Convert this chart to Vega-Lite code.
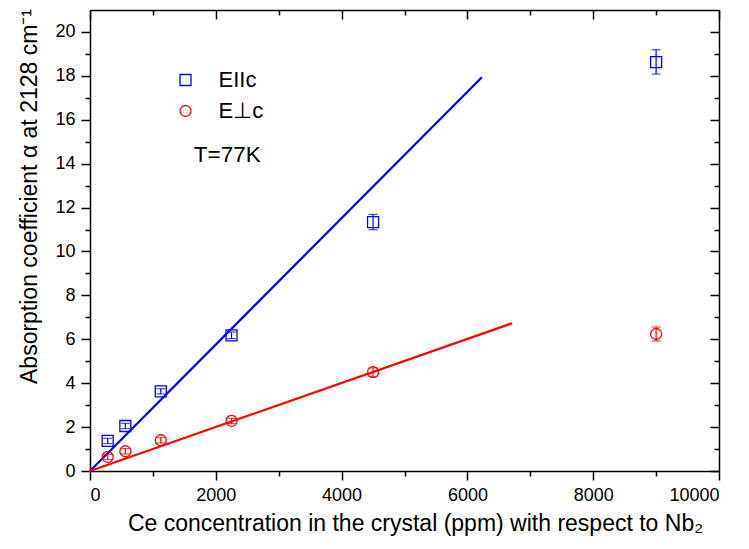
{
  "$schema": "https://vega.github.io/schema/vega-lite/v6.json",
  "autosize": "none",
  "width": 629,
  "height": 461,
  "padding": {"left": 90, "top": 10, "right": 30, "bottom": 78},
  "background": "white",
  "config": {
    "view": {"stroke": null},
    "font": "Liberation Sans",
    "axis": {
      "grid": false,
      "domainColor": "black",
      "tickColor": "black",
      "domainWidth": 1.5,
      "tickWidth": 1.5,
      "labelColor": "black",
      "titleColor": "black",
      "labelFont": "Liberation Sans",
      "titleFont": "Liberation Sans",
      "labelFontSize": 18,
      "titleFontSize": 23,
      "titleFontWeight": "normal",
      "labelOverlap": false
    }
  },
  "datasets": {
    "pts": [
      {"series": "EIIc", "x": 281, "y": 1.37, "lo": 1.25, "hi": 1.49},
      {"series": "EIIc", "x": 562, "y": 2.05, "lo": 1.93, "hi": 2.17},
      {"series": "EIIc", "x": 1125, "y": 3.63, "lo": 3.51, "hi": 3.75},
      {"series": "EIIc", "x": 2250, "y": 6.18, "lo": 6.03, "hi": 6.33},
      {"series": "EIIc", "x": 4500, "y": 11.34, "lo": 10.99, "hi": 11.69},
      {"series": "EIIc", "x": 9000, "y": 18.63, "lo": 18.08, "hi": 19.19},
      {"series": "E⊥c", "x": 281, "y": 0.64, "lo": 0.52, "hi": 0.76},
      {"series": "E⊥c", "x": 562, "y": 0.9, "lo": 0.78, "hi": 1.02},
      {"series": "E⊥c", "x": 1125, "y": 1.4, "lo": 1.28, "hi": 1.52},
      {"series": "E⊥c", "x": 2250, "y": 2.28, "lo": 2.16, "hi": 2.4},
      {"series": "E⊥c", "x": 4500, "y": 4.5, "lo": 4.3, "hi": 4.7},
      {"series": "E⊥c", "x": 9000, "y": 6.24, "lo": 5.92, "hi": 6.56}
    ],
    "fits": [
      {"series": "EIIc", "x": 0, "y": 0},
      {"series": "EIIc", "x": 6230, "y": 17.94},
      {"series": "E⊥c", "x": 0, "y": 0},
      {"series": "E⊥c", "x": 6710, "y": 6.73}
    ],
    "notes": [
      {"label": "T=77K", "x": 1650, "y": 14.38}
    ]
  },
  "resolve": {"axis": {"x": "independent", "y": "independent"}},
  "layer": [
    {
      "data": {"name": "fits"},
      "mark": {"type": "line", "strokeWidth": 2.2},
      "encoding": {
        "x": {"field": "x", "type": "quantitative",
          "scale": {"domain": [0, 10000], "nice": false, "zero": false},
          "axis": {"orient": "bottom",
            "values": [0, 1000, 2000, 3000, 4000, 5000, 6000, 7000, 8000, 9000, 10000],
            "format": "d",
            "labelExpr": "datum.value % 2000 === 0 ? datum.label : ''",
            "tickSize": {"condition": {"test": "datum.value % 2000 === 0", "value": 9}, "value": 5},
            "labelPadding": 6,
            "title": "Ce concentration in the crystal (ppm) with respect to Nb₂",
            "titleX": 325,
            "titlePadding": 8}},
        "y": {"field": "y", "type": "quantitative",
          "scale": {"domain": [0, 21], "nice": false, "zero": false},
          "axis": {"orient": "left",
            "values": [0, 1, 2, 3, 4, 5, 6, 7, 8, 9, 10, 11, 12, 13, 14, 15, 16, 17, 18, 19, 20],
            "labelExpr": "datum.value % 2 === 0 ? datum.label : ''",
            "tickSize": {"condition": {"test": "datum.value % 2 === 0", "value": 9}, "value": 5},
            "labelPadding": 6,
            "title": "Absorption coefficient α at 2128 cm⁻¹",
            "titleY": 186,
            "titleX": -49}},
        "color": {"condition": {"test": "datum.series === 'EIIc'", "value": "#0000ff"}, "value": "#ff0000"},
        "detail": {"field": "series"}
      }
    },
    {
      "data": {"name": "pts"},
      "mark": {"type": "rule", "strokeWidth": 1.2},
      "encoding": {
        "x": {"field": "x", "type": "quantitative",
          "axis": {"orient": "top",
            "values": [0, 1000, 2000, 3000, 4000, 5000, 6000, 7000, 8000, 9000, 10000],
            "labels": false, "title": null,
            "tickSize": {"condition": {"test": "datum.value % 2000 === 0", "value": -9}, "value": -5}}},
        "y": {"field": "lo", "type": "quantitative",
          "axis": {"orient": "right",
            "values": [0, 1, 2, 3, 4, 5, 6, 7, 8, 9, 10, 11, 12, 13, 14, 15, 16, 17, 18, 19, 20],
            "labels": false, "title": null,
            "tickSize": {"condition": {"test": "datum.value % 2 === 0", "value": -9}, "value": -5}}},
        "y2": {"field": "hi"},
        "color": {"condition": {"test": "datum.series === 'EIIc'", "value": "#0000ff"}, "value": "#ff0000"}
      }
    },
    {
      "data": {"name": "pts"},
      "mark": {"type": "tick", "orient": "horizontal", "size": 9, "thickness": 1.2},
      "encoding": {
        "x": {"field": "x", "type": "quantitative", "axis": null},
        "y": {"field": "lo", "type": "quantitative", "axis": null},
        "color": {"condition": {"test": "datum.series === 'EIIc'", "value": "#0000ff"}, "value": "#ff0000"}
      }
    },
    {
      "data": {"name": "pts"},
      "mark": {"type": "tick", "orient": "horizontal", "size": 9, "thickness": 1.2},
      "encoding": {
        "x": {"field": "x", "type": "quantitative", "axis": null},
        "y": {"field": "hi", "type": "quantitative", "axis": null},
        "color": {"condition": {"test": "datum.series === 'EIIc'", "value": "#0000ff"}, "value": "#ff0000"}
      }
    },
    {
      "data": {"name": "pts"},
      "mark": {"type": "point", "filled": false, "strokeWidth": 1.3, "opacity": 1},
      "encoding": {
        "x": {"field": "x", "type": "quantitative", "axis": null},
        "y": {"field": "y", "type": "quantitative", "axis": null},
        "color": {"field": "series", "type": "nominal",
          "scale": {"domain": ["EIIc", "E⊥c"], "range": ["#0000ff", "#ff0000"]},
          "legend": {
            "orient": "none", "legendX": 84.5, "legendY": 59, "padding": 0,
            "title": null, "labelFontSize": 22, "labelFont": "Liberation Sans",
            "labelColor": "black", "labelOffset": 22, "rowPadding": 9,
            "symbolSize": 121, "symbolStrokeWidth": 1.3
          }},
        "shape": {"field": "series", "type": "nominal",
          "scale": {"domain": ["EIIc", "E⊥c"], "range": ["square", "circle"]}},
        "size": {"value": 121}
      }
    },
    {
      "data": {"name": "notes"},
      "mark": {"type": "text", "align": "left", "baseline": "middle", "fontSize": 22.5, "font": "Liberation Sans", "color": "black"},
      "encoding": {
        "x": {"field": "x", "type": "quantitative", "axis": null},
        "y": {"field": "y", "type": "quantitative", "axis": null},
        "text": {"field": "label"}
      }
    }
  ]
}
